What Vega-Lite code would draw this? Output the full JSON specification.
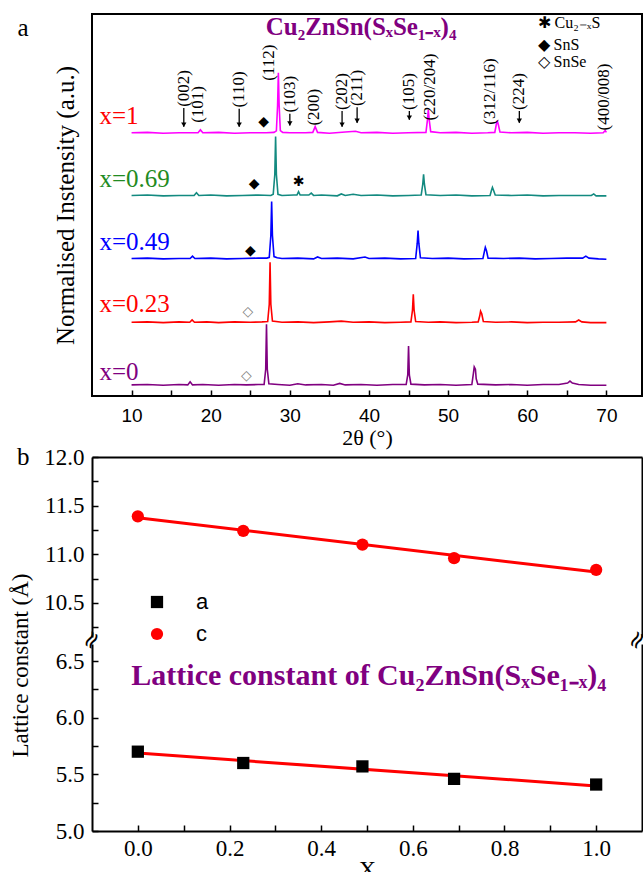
{
"$schema":"https://vega.github.io/schema/vega-lite/v6.json",
"padding":{"left":8,"top":13,"right":0,"bottom":0},
"background":"white",
"config":{"view":{"stroke":null},"axis":{"labelFont":"Liberation Serif","titleFont":"Liberation Serif","titleFontWeight":"normal","labelColor":"black","titleColor":"black","domainColor":"black","domainWidth":2,"tickColor":"black","tickWidth":1.5,"grid":false},"text":{"font":"Liberation Serif","color":"black"}},
"datasets":{
"xrd":[
{"s":"x=0","t":10,"I":2.9},{"s":"x=0","t":12,"I":3.0},{"s":"x=0","t":14,"I":2.8},{"s":"x=0","t":16,"I":3.0},{"s":"x=0","t":17.1,"I":2.9},{"s":"x=0","t":17.4,"I":3.7},{"s":"x=0","t":17.7,"I":2.9},{"s":"x=0","t":19,"I":3.0},{"s":"x=0","t":21,"I":2.8},{"s":"x=0","t":23,"I":3.0},{"s":"x=0","t":24.5,"I":2.9},{"s":"x=0","t":26,"I":3.0},{"s":"x=0","t":26.75,"I":3.0},{"s":"x=0","t":26.95,"I":7.0},{"s":"x=0","t":27.05,"I":18.8},{"s":"x=0","t":27.15,"I":7.0},{"s":"x=0","t":27.35,"I":3.2},{"s":"x=0","t":28.5,"I":3.0},{"s":"x=0","t":30,"I":2.8},{"s":"x=0","t":31,"I":3.2},{"s":"x=0","t":32,"I":2.9},{"s":"x=0","t":34,"I":3.0},{"s":"x=0","t":35.5,"I":2.8},{"s":"x=0","t":36.3,"I":3.3},{"s":"x=0","t":37,"I":2.9},{"s":"x=0","t":39,"I":3.0},{"s":"x=0","t":41,"I":2.8},{"s":"x=0","t":43,"I":3.0},{"s":"x=0","t":44.7,"I":3.0},{"s":"x=0","t":44.9,"I":5.5},{"s":"x=0","t":45.0,"I":13.1},{"s":"x=0","t":45.1,"I":5.5},{"s":"x=0","t":45.3,"I":3.1},{"s":"x=0","t":47,"I":2.9},{"s":"x=0","t":49,"I":3.0},{"s":"x=0","t":51,"I":2.8},{"s":"x=0","t":53.0,"I":3.0},{"s":"x=0","t":53.2,"I":6.0},{"s":"x=0","t":53.3,"I":7.6},{"s":"x=0","t":53.45,"I":7.0},{"s":"x=0","t":53.55,"I":4.5},{"s":"x=0","t":53.75,"I":3.1},{"s":"x=0","t":56,"I":2.9},{"s":"x=0","t":58,"I":3.0},{"s":"x=0","t":60,"I":2.8},{"s":"x=0","t":62,"I":3.0},{"s":"x=0","t":64,"I":3.0},{"s":"x=0","t":65.1,"I":3.4},{"s":"x=0","t":65.4,"I":3.9},{"s":"x=0","t":65.7,"I":3.4},{"s":"x=0","t":66.5,"I":3.0},{"s":"x=0","t":68,"I":2.8},{"s":"x=0","t":70,"I":2.8},
{"s":"x=0.23","t":10,"I":19.3},{"s":"x=0.23","t":12,"I":19.4},{"s":"x=0.23","t":14,"I":19.2},{"s":"x=0.23","t":16,"I":19.4},{"s":"x=0.23","t":17.35,"I":19.3},{"s":"x=0.23","t":17.65,"I":19.9},{"s":"x=0.23","t":17.95,"I":19.3},{"s":"x=0.23","t":19.5,"I":19.4},{"s":"x=0.23","t":21,"I":19.2},{"s":"x=0.23","t":23,"I":19.4},{"s":"x=0.23","t":25,"I":19.3},{"s":"x=0.23","t":26.5,"I":19.4},{"s":"x=0.23","t":27.2,"I":19.5},{"s":"x=0.23","t":27.4,"I":24.0},{"s":"x=0.23","t":27.5,"I":35.0},{"s":"x=0.23","t":27.6,"I":24.0},{"s":"x=0.23","t":27.8,"I":19.6},{"s":"x=0.23","t":29,"I":19.3},{"s":"x=0.23","t":31,"I":19.4},{"s":"x=0.23","t":33,"I":19.2},{"s":"x=0.23","t":35,"I":19.4},{"s":"x=0.23","t":36.5,"I":19.6},{"s":"x=0.23","t":38,"I":19.3},{"s":"x=0.23","t":40,"I":19.4},{"s":"x=0.23","t":42,"I":19.2},{"s":"x=0.23","t":44,"I":19.3},{"s":"x=0.23","t":45.3,"I":19.4},{"s":"x=0.23","t":45.5,"I":22.5},{"s":"x=0.23","t":45.6,"I":26.6},{"s":"x=0.23","t":45.7,"I":22.5},{"s":"x=0.23","t":45.9,"I":19.5},{"s":"x=0.23","t":47.5,"I":19.3},{"s":"x=0.23","t":49,"I":19.4},{"s":"x=0.23","t":51,"I":19.2},{"s":"x=0.23","t":53,"I":19.3},{"s":"x=0.23","t":53.8,"I":19.4},{"s":"x=0.23","t":54.0,"I":21.0},{"s":"x=0.23","t":54.1,"I":22.2},{"s":"x=0.23","t":54.25,"I":21.5},{"s":"x=0.23","t":54.45,"I":19.5},{"s":"x=0.23","t":56,"I":19.3},{"s":"x=0.23","t":58,"I":19.4},{"s":"x=0.23","t":60,"I":19.2},{"s":"x=0.23","t":62,"I":19.3},{"s":"x=0.23","t":64,"I":19.3},{"s":"x=0.23","t":66.1,"I":19.4},{"s":"x=0.23","t":66.5,"I":19.9},{"s":"x=0.23","t":66.9,"I":19.4},{"s":"x=0.23","t":68,"I":19.2},{"s":"x=0.23","t":70,"I":19.2},
{"s":"x=0.49","t":10,"I":36.0},{"s":"x=0.49","t":12,"I":36.1},{"s":"x=0.49","t":14,"I":35.9},{"s":"x=0.49","t":16,"I":36.0},{"s":"x=0.49","t":17.4,"I":36.0},{"s":"x=0.49","t":17.7,"I":36.6},{"s":"x=0.49","t":18.0,"I":36.0},{"s":"x=0.49","t":20,"I":36.1},{"s":"x=0.49","t":22,"I":35.9},{"s":"x=0.49","t":24,"I":36.0},{"s":"x=0.49","t":26,"I":36.1},{"s":"x=0.49","t":27.1,"I":36.1},{"s":"x=0.49","t":27.4,"I":36.3},{"s":"x=0.49","t":27.6,"I":42.0},{"s":"x=0.49","t":27.7,"I":50.9},{"s":"x=0.49","t":27.8,"I":42.0},{"s":"x=0.49","t":28.0,"I":36.5},{"s":"x=0.49","t":28.4,"I":36.2},{"s":"x=0.49","t":29,"I":36.0},{"s":"x=0.49","t":31,"I":36.1},{"s":"x=0.49","t":33,"I":35.9},{"s":"x=0.49","t":33.5,"I":36.4},{"s":"x=0.49","t":34,"I":36.0},{"s":"x=0.49","t":36,"I":36.1},{"s":"x=0.49","t":38,"I":35.9},{"s":"x=0.49","t":39.5,"I":36.4},{"s":"x=0.49","t":40,"I":36.0},{"s":"x=0.49","t":42,"I":36.1},{"s":"x=0.49","t":44,"I":35.9},{"s":"x=0.49","t":45.9,"I":36.0},{"s":"x=0.49","t":46.1,"I":40.0},{"s":"x=0.49","t":46.2,"I":43.3},{"s":"x=0.49","t":46.3,"I":40.0},{"s":"x=0.49","t":46.5,"I":36.2},{"s":"x=0.49","t":48,"I":36.0},{"s":"x=0.49","t":50,"I":36.1},{"s":"x=0.49","t":52,"I":35.9},{"s":"x=0.49","t":54.4,"I":36.0},{"s":"x=0.49","t":54.6,"I":38.0},{"s":"x=0.49","t":54.7,"I":38.9},{"s":"x=0.49","t":54.85,"I":38.0},{"s":"x=0.49","t":55.05,"I":36.1},{"s":"x=0.49","t":57,"I":36.0},{"s":"x=0.49","t":59,"I":36.1},{"s":"x=0.49","t":61,"I":35.9},{"s":"x=0.49","t":63,"I":36.0},{"s":"x=0.49","t":65,"I":36.1},{"s":"x=0.49","t":67.0,"I":36.1},{"s":"x=0.49","t":67.4,"I":36.6},{"s":"x=0.49","t":67.8,"I":36.1},{"s":"x=0.49","t":69,"I":35.9},{"s":"x=0.49","t":70,"I":35.8},
{"s":"x=0.69","t":10,"I":52.5},{"s":"x=0.69","t":12,"I":52.6},{"s":"x=0.69","t":14,"I":52.4},{"s":"x=0.69","t":16,"I":52.5},{"s":"x=0.69","t":17.9,"I":52.5},{"s":"x=0.69","t":18.2,"I":53.2},{"s":"x=0.69","t":18.5,"I":52.5},{"s":"x=0.69","t":20,"I":52.6},{"s":"x=0.69","t":22,"I":52.4},{"s":"x=0.69","t":24,"I":52.5},{"s":"x=0.69","t":26,"I":52.6},{"s":"x=0.69","t":27.6,"I":52.5},{"s":"x=0.69","t":27.9,"I":52.8},{"s":"x=0.69","t":28.1,"I":58.0},{"s":"x=0.69","t":28.2,"I":67.9},{"s":"x=0.69","t":28.3,"I":58.0},{"s":"x=0.69","t":28.5,"I":52.8},{"s":"x=0.69","t":29,"I":52.5},{"s":"x=0.69","t":30.5,"I":52.6},{"s":"x=0.69","t":30.9,"I":52.6},{"s":"x=0.69","t":31.1,"I":53.5},{"s":"x=0.69","t":31.3,"I":52.6},{"s":"x=0.69","t":32.4,"I":52.6},{"s":"x=0.69","t":32.7,"I":53.1},{"s":"x=0.69","t":33.0,"I":52.5},{"s":"x=0.69","t":34,"I":52.6},{"s":"x=0.69","t":36,"I":52.4},{"s":"x=0.69","t":36.5,"I":52.9},{"s":"x=0.69","t":37,"I":52.5},{"s":"x=0.69","t":38,"I":52.8},{"s":"x=0.69","t":39,"I":52.5},{"s":"x=0.69","t":41,"I":52.6},{"s":"x=0.69","t":43,"I":52.4},{"s":"x=0.69","t":45,"I":52.5},{"s":"x=0.69","t":46.6,"I":52.6},{"s":"x=0.69","t":46.8,"I":55.5},{"s":"x=0.69","t":46.9,"I":58.0},{"s":"x=0.69","t":47.0,"I":55.5},{"s":"x=0.69","t":47.2,"I":52.7},{"s":"x=0.69","t":49,"I":52.5},{"s":"x=0.69","t":51,"I":52.6},{"s":"x=0.69","t":53,"I":52.4},{"s":"x=0.69","t":55.3,"I":52.5},{"s":"x=0.69","t":55.5,"I":54.0},{"s":"x=0.69","t":55.6,"I":54.6},{"s":"x=0.69","t":55.75,"I":53.8},{"s":"x=0.69","t":55.95,"I":52.6},{"s":"x=0.69","t":58,"I":52.5},{"s":"x=0.69","t":60,"I":52.6},{"s":"x=0.69","t":62,"I":52.4},{"s":"x=0.69","t":64,"I":52.5},{"s":"x=0.69","t":66,"I":52.5},{"s":"x=0.69","t":68.1,"I":52.5},{"s":"x=0.69","t":68.4,"I":52.9},{"s":"x=0.69","t":68.7,"I":52.4},{"s":"x=0.69","t":70,"I":52.4},
{"s":"x=1","t":10,"I":68.9},{"s":"x=1","t":12,"I":69.0},{"s":"x=1","t":14,"I":68.8},{"s":"x=1","t":16,"I":68.9},{"s":"x=1","t":18.4,"I":68.9},{"s":"x=1","t":18.7,"I":69.7},{"s":"x=1","t":19.0,"I":68.9},{"s":"x=1","t":21,"I":69.0},{"s":"x=1","t":23,"I":68.8},{"s":"x=1","t":25,"I":68.9},{"s":"x=1","t":27,"I":68.9},{"s":"x=1","t":28.0,"I":69.0},{"s":"x=1","t":28.3,"I":69.4},{"s":"x=1","t":28.45,"I":76.0},{"s":"x=1","t":28.55,"I":84.6},{"s":"x=1","t":28.65,"I":76.0},{"s":"x=1","t":28.8,"I":69.5},{"s":"x=1","t":29.1,"I":69.0},{"s":"x=1","t":30,"I":68.9},{"s":"x=1","t":32,"I":68.9},{"s":"x=1","t":32.9,"I":69.0},{"s":"x=1","t":33.2,"I":70.5},{"s":"x=1","t":33.5,"I":69.0},{"s":"x=1","t":35,"I":68.8},{"s":"x=1","t":37,"I":69.1},{"s":"x=1","t":38.3,"I":69.3},{"s":"x=1","t":39,"I":68.9},{"s":"x=1","t":41,"I":69.0},{"s":"x=1","t":43,"I":68.8},{"s":"x=1","t":45,"I":68.9},{"s":"x=1","t":47.2,"I":69.0},{"s":"x=1","t":47.4,"I":72.5},{"s":"x=1","t":47.5,"I":74.9},{"s":"x=1","t":47.6,"I":72.5},{"s":"x=1","t":47.8,"I":69.2},{"s":"x=1","t":49,"I":68.9},{"s":"x=1","t":51,"I":69.0},{"s":"x=1","t":53,"I":68.8},{"s":"x=1","t":55,"I":68.9},{"s":"x=1","t":55.9,"I":69.0},{"s":"x=1","t":56.1,"I":71.2},{"s":"x=1","t":56.2,"I":72.1},{"s":"x=1","t":56.35,"I":71.0},{"s":"x=1","t":56.55,"I":69.1},{"s":"x=1","t":58,"I":68.9},{"s":"x=1","t":60,"I":69.0},{"s":"x=1","t":62,"I":68.8},{"s":"x=1","t":64,"I":68.9},{"s":"x=1","t":66,"I":68.9},{"s":"x=1","t":68,"I":68.8},{"s":"x=1","t":69.6,"I":68.9},{"s":"x=1","t":69.85,"I":69.5},{"s":"x=1","t":70,"I":69.0}
],
"samples":[
{"s":"x=1","t":5.95,"I":73.4},{"s":"x=0.69","t":5.95,"I":56.7},{"s":"x=0.49","t":5.95,"I":40.2},{"s":"x=0.23","t":5.95,"I":24.0},{"s":"x=0","t":5.95,"I":6.3}
],
"hkl":[
{"label":"(002)","t":16.6,"I":75.7},{"label":"(101)","t":18.4,"I":71.5},{"label":"(110)","t":23.6,"I":75.5},{"label":"(112)","t":27.4,"I":82.5},{"label":"(103)","t":30.0,"I":74.2},{"label":"(200)","t":33.1,"I":70.8},{"label":"(202)","t":36.6,"I":74.9},{"label":"(211)","t":38.5,"I":75.9},{"label":"(105)","t":45.1,"I":74.9},{"label":"(220/204)","t":47.7,"I":72.1},{"label":"(312/116)","t":55.3,"I":71.0},{"label":"(224)","t":59.0,"I":74.9},{"label":"(400/008)","t":69.7,"I":69.5}
],
"arrows":[
{"t":16.6,"I":75.4,"I2":70.5},{"t":23.6,"I":75.2,"I2":70.5},{"t":30.0,"I":73.9,"I2":70.8},{"t":36.6,"I":74.6,"I2":70.5},{"t":38.5,"I":75.6,"I2":71.5},{"t":45.1,"I":74.6,"I2":72.3},{"t":59.0,"I":74.6,"I2":71.5}
],
"phases":[
{"g":"◆","t":26.7,"I":71.8},{"g":"◆","t":25.5,"I":55.4},{"g":"✱","t":31.1,"I":55.9},{"g":"◆","t":25.0,"I":37.9},{"g":"◇","t":24.7,"I":21.9},{"g":"◇","t":24.5,"I":5.2}
],
"key":[
{"label":"✱ Cu₂₋ₓS","t":61.3,"I":97.7},{"label":"◆ SnS","t":61.3,"I":91.9},{"label":"◇ SnSe","t":61.3,"I":87.5}
],
"lat":[
{"x":0,"v":11.39,"p":"c"},{"x":0.23,"v":11.24,"p":"c"},{"x":0.49,"v":11.10,"p":"c"},{"x":0.69,"v":10.96,"p":"c"},{"x":1,"v":10.84,"p":"c"},
{"x":0,"v":5.70,"p":"a"},{"x":0.23,"v":5.60,"p":"a"},{"x":0.49,"v":5.57,"p":"a"},{"x":0.69,"v":5.46,"p":"a"},{"x":1,"v":5.41,"p":"a"}
]
},
"bounds":"flush",
"spacing":61,
"resolve":{"scale":{"color":"shared","shape":"shared"},"legend":{"color":"shared","shape":"shared"}},
"vconcat":[
{
"width":550,"height":382,
"view":{"stroke":"black","strokeWidth":2},
"layer":[
{"data":{"name":"xrd"},"mark":{"type":"line","strokeWidth":1.6},
 "encoding":{
  "x":{"field":"t","type":"quantitative","scale":{"domain":[5,74.5],"nice":false,"zero":false},
   "axis":{"title":"2θ (°)","values":[10,15,20,25,30,35,40,45,50,55,60,65,70],"labelExpr":"datum.value % 10 === 0 ? datum.label : ''","tickSize":-6,"labelPadding":16,"labelFont":"Liberation Sans","labelFontSize":19,"titleFontSize":22,"titlePadding":2,"domain":false}},
  "y":{"field":"I","type":"quantitative","scale":{"domain":[0,100],"nice":false,"zero":false},
   "axis":{"title":"Normalised Instensity (a.u.)","labels":false,"ticks":false,"domain":false,"titleFontSize":25,"titlePadding":14}},
  "stroke":{"field":"s","type":"nominal","scale":{"domain":["x=0","x=0.23","x=0.49","x=0.69","x=1"],"range":["#800080","#ff0000","#0000ff","#138a80","#ff00ff"]},"legend":null}
 }},
{"data":{"name":"arrows"},"mark":{"type":"rule","strokeWidth":1.3,"color":"black"},
 "encoding":{"x":{"field":"t","type":"quantitative"},"y":{"field":"I","type":"quantitative"},"y2":{"field":"I2"}}},
{"data":{"name":"arrows"},"mark":{"type":"point","shape":"triangle-down","filled":true,"color":"black","size":28,"opacity":1,"yOffset":-2},
 "encoding":{"x":{"field":"t","type":"quantitative"},"y":{"field":"I2","type":"quantitative"}}},
{"data":{"name":"hkl"},"mark":{"type":"text","angle":270,"align":"left","baseline":"middle","fontSize":17},
 "encoding":{"x":{"field":"t","type":"quantitative"},"y":{"field":"I","type":"quantitative"},"text":{"field":"label"}}},
{"data":{"name":"samples"},"mark":{"type":"text","align":"left","baseline":"middle","fontSize":25},
 "encoding":{"x":{"field":"t","type":"quantitative"},"y":{"field":"I","type":"quantitative"},"text":{"field":"s"},
  "fill":{"field":"s","type":"nominal","scale":{"domain":["x=0","x=0.23","x=0.49","x=0.69","x=1"],"range":["#800080","#ff0000","#0000ff","#228b22","#ff0000"]},"legend":null}}},
{"data":{"name":"phases"},"transform":[{"filter":"datum.g !== '◇'"}],"mark":{"type":"text","align":"center","baseline":"middle","fontSize":14,"font":"DejaVu Sans","color":"black"},
 "encoding":{"x":{"field":"t","type":"quantitative"},"y":{"field":"I","type":"quantitative"},"text":{"field":"g"}}},
{"data":{"name":"phases"},"transform":[{"filter":"datum.g === '◇'"}],"mark":{"type":"text","align":"center","baseline":"middle","fontSize":14,"font":"DejaVu Sans","color":"#808080"},
 "encoding":{"x":{"field":"t","type":"quantitative"},"y":{"field":"I","type":"quantitative"},"text":{"field":"g"}}},
{"data":{"name":"key"},"mark":{"type":"text","align":"left","baseline":"middle","fontSize":16},
 "encoding":{"x":{"field":"t","type":"quantitative"},"y":{"field":"I","type":"quantitative"},"text":{"field":"label"}}},
{"data":{"values":[{"label":"Cu₂ZnSn(SₓSe₁₋ₓ)₄","t":39.0,"I":94.5}]},"mark":{"type":"text","align":"center","baseline":"alphabetic","fontSize":25,"fontWeight":"bold","color":"#800080"},
 "encoding":{"x":{"field":"t","type":"quantitative"},"y":{"field":"I","type":"quantitative"},"text":{"field":"label"}}},
{"data":{"values":[{"label":"a","t":-3.7,"I":96.3}]},"mark":{"type":"text","align":"center","baseline":"middle","fontSize":25,"color":"black"},
 "encoding":{"x":{"field":"t","type":"quantitative"},"y":{"field":"I","type":"quantitative"},"text":{"field":"label"}}}
]
},
{
"bounds":"flush",
"spacing":7,
"vconcat":[
{
"width":550,"height":180,
"data":{"name":"lat"},
"resolve":{"axis":{"x":"independent","y":"independent"}},
"layer":[
{"transform":[{"filter":"datum.p === 'c'"},{"regression":"v","on":"x","extent":[0,1]}],"mark":{"type":"line","color":"red","strokeWidth":3},
 "encoding":{"x":{"field":"x","type":"quantitative","scale":{"domain":[-0.1,1.1],"nice":false,"zero":false},"axis":null},
  "y":{"field":"v","type":"quantitative","scale":{"domain":[10.15,12.0],"nice":false,"zero":false},"axis":null}}},
{"transform":[{"filter":"datum.p === 'c'"}],"mark":{"type":"point","filled":true,"size":150,"opacity":1},
 "encoding":{"x":{"field":"x","type":"quantitative","axis":null},
  "y":{"field":"v","type":"quantitative","axis":{"orient":"left","title":null,"values":[10.25,10.5,10.75,11.0,11.25,11.5,11.75,12.0],"labelExpr":"datum.value % 0.5 === 0 ? format(datum.value, '.1f') : ''","tickSize":-6,"labelPadding":14,"labelFontSize":23}},
  "color":{"field":"p","type":"nominal","scale":{"domain":["a","c"],"range":["black","red"]},"legend":{"title":null,"orient":"none","legendX":54,"legendY":577,"labelFont":"Liberation Sans","labelFontSize":22,"symbolSize":150,"rowPadding":10,"labelOffset":28}},
  "shape":{"field":"p","type":"nominal","scale":{"domain":["a","c"],"range":["square","circle"]},"legend":{"title":null,"orient":"none","legendX":54,"legendY":577,"labelFont":"Liberation Sans","labelFontSize":22,"symbolSize":150,"rowPadding":10,"labelOffset":28}}}},
{"transform":[{"filter":"datum.p === 'c'"}],"mark":{"type":"point","opacity":0},
 "encoding":{"x":{"field":"x","type":"quantitative","axis":{"orient":"top","labels":false,"ticks":false,"title":null}},
  "y":{"field":"v","type":"quantitative","axis":{"orient":"right","labels":false,"ticks":false,"title":null}}}},
{"data":{"values":[{"x":-0.25,"v":12.0,"label":"b"}]},"mark":{"type":"text","align":"center","baseline":"middle","fontSize":25},
 "encoding":{"x":{"field":"x","type":"quantitative","axis":null},"y":{"field":"v","type":"quantitative","axis":null},"text":{"field":"label"}}},
{"data":{"values":[{"x":-0.1,"v":10.115},{"x":1.09,"v":10.115}]},"mark":{"type":"text","align":"center","baseline":"middle","fontSize":24,"font":"DejaVu Sans","angle":300,"text":"≈"},
 "encoding":{"x":{"field":"x","type":"quantitative","axis":null},"y":{"field":"v","type":"quantitative","axis":null}}}
]
},
{
"width":550,"height":187,
"data":{"name":"lat"},
"resolve":{"axis":{"x":"independent","y":"independent"}},
"layer":[
{"transform":[{"filter":"datum.p === 'a'"},{"regression":"v","on":"x","extent":[0,1]}],"mark":{"type":"line","color":"red","strokeWidth":3},
 "encoding":{"x":{"field":"x","type":"quantitative","scale":{"domain":[-0.1,1.1],"nice":false,"zero":false},"axis":null},
  "y":{"field":"v","type":"quantitative","scale":{"domain":[5.0,6.65],"nice":false,"zero":false},"axis":null}}},
{"transform":[{"filter":"datum.p === 'a'"}],"mark":{"type":"point","filled":true,"size":150,"opacity":1},
 "encoding":{"x":{"field":"x","type":"quantitative","axis":{"orient":"bottom","title":"X","values":[0,0.1,0.2,0.3,0.4,0.5,0.6,0.7,0.8,0.9,1.0],"labelExpr":"round(datum.value*10) % 2 === 0 ? format(datum.value, '.1f') : ''","tickSize":-6,"labelPadding":12,"labelFontSize":23,"titleFontSize":24,"titlePadding":-3}},
  "y":{"field":"v","type":"quantitative","axis":{"orient":"left","title":"Lattice constant (Å)","titleFontSize":23,"titleX":-60,"titleY":21,"values":[5.0,5.25,5.5,5.75,6.0,6.25,6.5],"labelExpr":"datum.value % 0.5 === 0 ? format(datum.value, '.1f') : ''","tickSize":-6,"labelPadding":14,"labelFontSize":23}},
  "color":{"field":"p","type":"nominal","scale":{"domain":["a","c"],"range":["black","red"]},"legend":{"title":null,"orient":"none","legendX":54,"legendY":577,"labelFont":"Liberation Sans","labelFontSize":22,"symbolSize":150,"rowPadding":10,"labelOffset":28}},
  "shape":{"field":"p","type":"nominal","scale":{"domain":["a","c"],"range":["square","circle"]},"legend":{"title":null,"orient":"none","legendX":54,"legendY":577,"labelFont":"Liberation Sans","labelFontSize":22,"symbolSize":150,"rowPadding":10,"labelOffset":28}}}},
{"transform":[{"filter":"datum.p === 'a'"}],"mark":{"type":"point","opacity":0},
 "encoding":{"x":{"field":"x","type":"quantitative","axis":null},
  "y":{"field":"v","type":"quantitative","axis":{"orient":"right","labels":false,"ticks":false,"title":null}}}},
{"data":{"values":[{"x":0.504,"v":6.29,"label":"Lattice constant of Cu₂ZnSn(SₓSe₁₋ₓ)₄"}]},"mark":{"type":"text","align":"center","baseline":"alphabetic","fontSize":30,"fontWeight":"bold","color":"#800080"},
 "encoding":{"x":{"field":"x","type":"quantitative","axis":null},"y":{"field":"v","type":"quantitative","axis":null},"text":{"field":"label"}}}
]
}
]
}
]
}
